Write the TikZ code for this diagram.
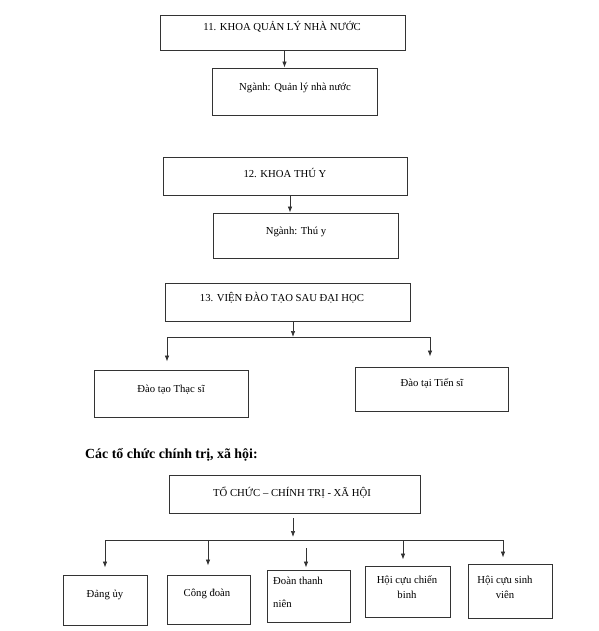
\documentclass[tikz,border=0pt]{standalone}
\usepackage{fontspec}
\setmainfont{Liberation Serif}
\usetikzlibrary{arrows.meta}
\tikzset {>={Latex[length=6pt,width=4.5pt]}}
\tikzset{box/.style={draw=black!80,line width=0.9pt,inner sep=0pt},
  lbl/.style={font=\fontsize{10.7}{13}\selectfont,text=black,inner sep=1pt},
  link/.style={->,draw=black!80,line width=0.7pt}}

\begin{document}
\begin{tikzpicture}[x=1pt,y=-1pt]
\useasboundingbox (0,0) rectangle (598,631);

% Draw Khoa 11 and its branch
\node[box,minimum width=245pt,minimum height=35pt] (khoa11) at (282.5,32.5) {};
\node[lbl] (khoa11t) at (282,27) {11. KHOA QUẢN LÝ NHÀ NƯỚC};
\node[box,minimum width=165pt,minimum height=47pt] (nganh11) at (294.5,91.5) {};
\node[lbl] (nganh11t) at (295,88) {Ngành: Quản lý nhà nước};
\draw[link] ([xshift=2pt]khoa11.south) -- ([xshift=2pt]khoa11.south |- nganh11.north);

% Draw Khoa 12 and its branch
\node[box,minimum width=244pt,minimum height=38pt] (khoa12) at (285,176) {};
\node[lbl] (khoa12t) at (285,173) {12. KHOA THÚ Y};
\node[box,minimum width=185pt,minimum height=45pt] (nganh12) at (305.5,235.5) {};
\node[lbl] (nganh12t) at (296,232) {Ngành: Thú y};
\draw[link] ([xshift=5pt]khoa12.south) -- ([xshift=5pt]khoa12.south |- nganh12.north);

% Draw Vien 13 with two branches
\node[box,minimum width=245pt,minimum height=38pt] (vien13) at (287.5,302) {};
\node[lbl] (vien13t) at (282,298) {13. VIỆN ĐÀO TẠO SAU ĐẠI HỌC};
\node[box,minimum width=154pt,minimum height=47pt] (thacsi) at (171,393.5) {};
\node[lbl] (thacsit) at (171,390) {Đào tạo Thạc sĩ};
\node[box,minimum width=153pt,minimum height=44pt] (tiensi) at (431.5,389) {};
\node[lbl] (tiensit) at (432,384) {Đào tại Tiến sĩ};
\coordinate (bus13)  at (293,337);
\coordinate (bus13l) at (167,337);
\coordinate (bus13r) at (430,337);
\draw[link] (vien13.south -| bus13) -- (bus13);
\draw[draw=black!80,line width=0.7pt] (bus13l) -- (bus13r);
\draw[link,shorten >=8pt]  (bus13l) -- (bus13l |- thacsi.north);
\draw[link,shorten >=10pt] (bus13r) -- (bus13r |- tiensi.north);

% Heading of the second chart
\node[anchor=west,font=\fontsize{13.9}{16}\selectfont\bfseries,text=black,inner sep=0pt]
  (heading) at (85,455) {Các tổ chức chính trị, xã hội:};

% Draw the mass organisations
\node[box,minimum width=251pt,minimum height=38pt] (tochuc) at (294.5,494) {};
\node[lbl] (tochuct) at (292,493) {TỔ CHỨC – CHÍNH TRỊ - XÃ HỘI};
\node[box,minimum width=84pt,minimum height=50pt] (dang)   at (105,600) {};
\node[lbl] (dangt) at (105,595) {Đảng ủy};
\node[box,minimum width=83pt,minimum height=49pt] (congdoan) at (208.5,599.5) {};
\node[lbl] (congdoant) at (207,594) {Công đoàn};
\node[box,minimum width=83pt,minimum height=52pt] (doan)   at (308.5,596) {};
\node[lbl,align=left,anchor=north west,font=\fontsize{10.7}{23}\selectfont]
  (doant) at (272,576) {Đoàn thanh\\niên};
\node[box,minimum width=85pt,minimum height=51pt] (cuuchienbinh) at (407.5,591.5) {};
\node[lbl,align=center,anchor=north,font=\fontsize{10.7}{15}\selectfont]
  (cuuchienbinht) at (407,575) {Hội cựu chiến\\binh};
\node[box,minimum width=84pt,minimum height=54pt] (cuusinhvien) at (510,591) {};
\node[lbl,align=center,anchor=north,font=\fontsize{10.7}{15}\selectfont]
  (cuusinhvient) at (505,575) {Hội cựu sinh\\viên};

% Bus line and arrows to the organisations
\coordinate (bus)  at (293,540);
\coordinate (bus1) at (105,540);
\coordinate (bus2) at (208,540);
\coordinate (bus3) at (306,540);
\coordinate (bus4) at (403,540);
\coordinate (bus5) at (503,540);
\draw[link,shorten <=5pt,shorten >=3pt] (tochuc.south -| bus) -- (bus);
\draw[draw=black!80,line width=0.7pt] (bus1) -- (bus5);
\draw[link,shorten >=7pt] (bus1) -- (bus1 |- dang.north);
\draw[link,shorten >=9pt] (bus2) -- (bus2 |- congdoan.north);
\draw[link,shorten <=8pt,shorten >=2pt] (bus3) -- (bus3 |- doan.north);
\draw[link,shorten >=6pt] (bus4) -- (bus4 |- cuuchienbinh.north);
\draw[link,shorten >=6pt] (bus5) -- (bus5 |- cuusinhvien.north);
\end{tikzpicture}
\end{document}
